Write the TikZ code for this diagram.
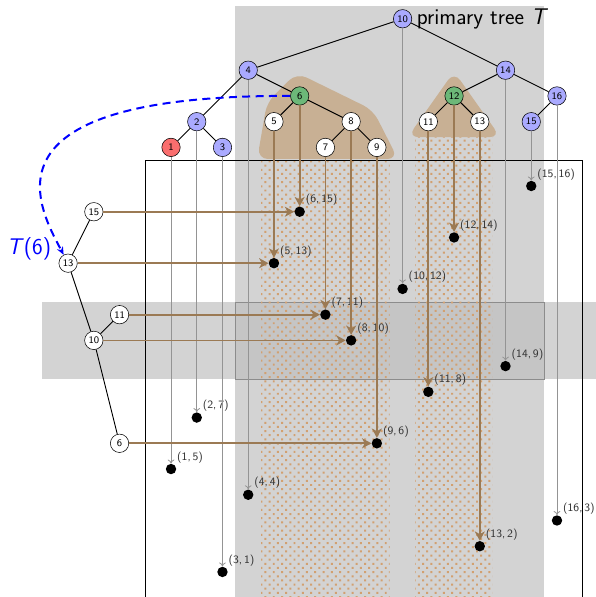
\documentclass[tikz,border=0pt]{standalone}
\usepackage{tikz}
\usetikzlibrary{arrows.meta,patterns.meta}
\definecolor{vtxblue}{RGB}{170,170,255}
\definecolor{vtxgreen}{RGB}{108,184,120}
\definecolor{vtxred}{RGB}{250,110,110}
\definecolor{bggray}{RGB}{211,211,211}
\definecolor{bgdark}{RGB}{197,197,197}
\definecolor{hulltan}{RGB}{200,176,148}
\definecolor{dotbrown}{RGB}{210,160,112}
\definecolor{flowbrown}{RGB}{155,122,84}
\tikzset{
  vtx/.style={circle,draw=black,fill=#1,inner sep=0pt,minimum size=13.8pt,
    font=\sffamily\fontsize{7.5}{8}\selectfont},
  vtx/.default=white,
  ptdot/.style={circle,fill=black,inner sep=0pt,minimum size=7.8pt},
  ptlab/.style={font=\sffamily\fontsize{8.5}{10}\selectfont,text=black!80,inner sep=1.5pt},
  tedge/.style={black,line width=0.7pt},
  gflow/.style={-{To[length=3pt,width=5pt]},draw=black!42,line width=0.6pt},
  bflow/.style={-{Stealth[length=7pt,width=7.5pt,inset=2pt]},draw=flowbrown,line width=1.3pt},
  tdash/.style={-{Stealth[length=6pt,width=5pt]},draw=blue,line width=1.5pt,dash pattern=on 6pt off 4pt},
  hull/.style={fill=hulltan,rounded corners=8pt},
  stripe/.style={pattern={Dots[distance=4.4pt,angle=45,radius=1.05pt]},pattern color=dotbrown},
  bigtxt/.style={font=\sffamily\fontsize{17}{20}\selectfont},
}
\begin{document}
\begin{tikzpicture}[x=19.3pt,y=19.3pt]
  % shaded regions
  \fill[bggray] (3.5,-1) rectangle (15.5,23);
  \fill[bggray] (-4,8.5) rectangle (17.6,11.5);
  \filldraw[fill=bgdark,draw=black!45] (3.5,8.5) rectangle (15.5,11.5);
  \fill[stripe] (4.5,-1) rectangle (9.5,17);
  \fill[stripe] (10.5,-1) rectangle (13.5,17.9);
  \fill[hull] (4.35,17.05) -- (4.73,19.26) -- (5.89,20.4) -- (8.85,18.95) -- (9.82,17.05) -- cycle;
  \fill[hull] (10.2,17.9) -- (12,20.45) -- (13.8,17.9) -- cycle;
  \draw[line width=0.8pt] (0,-1) rectangle (17,17);

  % primary tree
  \foreach \k/\v/\c in {10/22.5/vtxblue,4/20.5/vtxblue,14/20.5/vtxblue,
      6/19.5/vtxgreen,12/19.5/vtxgreen,16/19.5/vtxblue,
      2/18.5/vtxblue,5/18.5/white,8/18.5/white,11/18.5/white,13/18.5/white,15/18.5/vtxblue,
      1/17.5/vtxred,3/17.5/vtxblue,7/17.5/white,9/17.5/white}
    \node[vtx=\c] (t\k) at (\k,\v) {\k};
  \foreach \a/\b in {10/4,10/14,4/2,4/6,2/1,2/3,6/5,6/8,8/7,8/9,14/12,14/16,12/11,12/13,16/15}
    \draw[tedge] (t\a) -- (t\b);
  \node[bigtxt,anchor=west] (ttl) at (t10.east) {primary tree \textit{T}};

  % points
  \foreach \k/\v in {1/5,2/7,3/1,4/4,5/13,6/15,7/11,8/10,9/6,10/12,11/8,12/14,13/2,14/9,15/16,16/3}
    \node[ptdot,label={[ptlab]north east:(\k,\,\v)}] (p\k) at (\k,\v) {};
  \foreach \k in {1,2,3,4,10,14,15,16}
    \draw[gflow] (t\k) -- (p\k);
  \foreach \k in {5,6,7,8,9,11,12,13}
    \draw[bflow] (t\k) -- (p\k);

  % secondary tree T(6)
  \foreach \n/\x in {15/-2,13/-3,11/-1,10/-2,6/-1}
    \node[vtx] (s\n) at (\x,\n) {\n};
  \draw[tedge] (s13) -- (s15) (s13) -- (s10) (s10) -- (s11) (s10) -- (s6);
  \foreach \n/\k in {15/6,13/5,11/7,10/8,6/9}
    \draw[bflow] (s\n) -- (p\k);
  \node[bigtxt,text=blue] (tlab) at (-4.52,13.55) {\textit{T}(6)};
  \draw[tdash] (t6) .. controls (-6.6,19.54) and (-4.2,15.26) .. (s13);

  \pgfresetboundingbox
  \path[use as bounding box] (-5.647,0.027) rectangle (17.478,23.229);
\end{tikzpicture}
\end{document}
